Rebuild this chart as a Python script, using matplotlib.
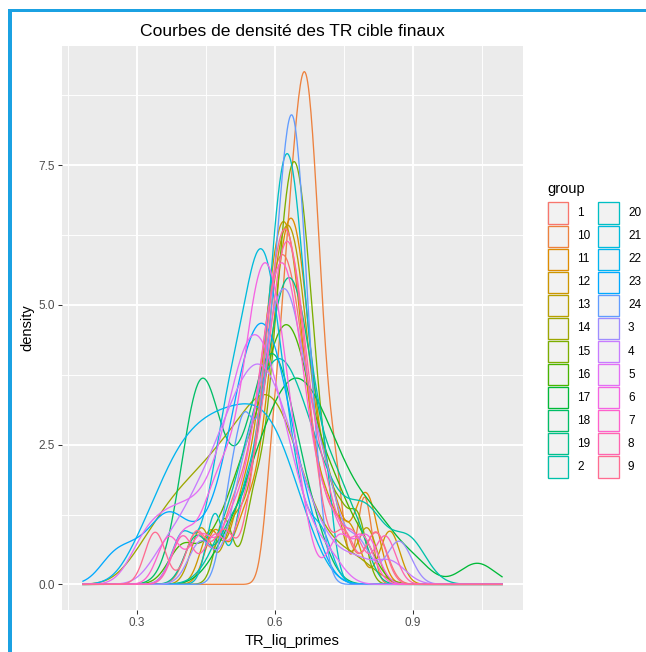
import numpy as np
import matplotlib
matplotlib.use("Agg")
import matplotlib.pyplot as plt
from matplotlib.patches import Rectangle
from matplotlib.ticker import FixedLocator

plt.rcParams['font.family'] = ['Liberation Sans', 'DejaVu Sans']

# ---------------- data (TR_liq_primes observations per group, read/estimated) ----------------
tr_g1 = [0.43, 0.50, 0.533, 0.559, 0.574, 0.586, 0.595, 0.604, 0.613, 0.621, 0.630, 0.639, 0.648, 0.660, 0.675, 0.701, 0.745, 0.82]
tr_g10 = [0.592, 0.6115, 0.6235, 0.633, 0.641, 0.649, 0.656, 0.662, 0.668, 0.674, 0.6805, 0.6885, 0.6975, 0.7115, 0.735, 0.795]
tr_g11 = [0.47, 0.53, 0.564, 0.586, 0.599, 0.609, 0.617, 0.624, 0.631, 0.639, 0.646, 0.653, 0.661, 0.671, 0.684, 0.706, 0.735, 0.785, 0.81]
tr_g12 = [0.46, 0.52, 0.548, 0.570, 0.583, 0.592, 0.601, 0.608, 0.615, 0.623, 0.630, 0.637, 0.646, 0.655, 0.668, 0.690, 0.72, 0.765, 0.85]
tr_g13 = [0.44, 0.51, 0.551, 0.575, 0.589, 0.599, 0.608, 0.616, 0.624, 0.632, 0.640, 0.648, 0.657, 0.667, 0.681, 0.705, 0.73, 0.80]
tr_g14 = [0.31, 0.35, 0.375, 0.395, 0.415, 0.435, 0.452, 0.468, 0.483, 0.497, 0.51, 0.523, 0.536, 0.548,
          0.559, 0.569, 0.579, 0.588, 0.597, 0.606, 0.616, 0.627, 0.64, 0.656, 0.68, 0.72, 0.78]
tr_g15 = [0.49, 0.55, 0.578, 0.598, 0.609, 0.617, 0.625, 0.633, 0.639, 0.645, 0.652, 0.659, 0.667, 0.676, 0.687, 0.706, 0.74, 0.78]
tr_g16 = [0.40, 0.47, 0.52, 0.526, 0.557, 0.574, 0.588, 0.599, 0.610, 0.620, 0.630, 0.640, 0.651, 0.662, 0.676, 0.693, 0.724, 0.74, 0.79]
tr_g17 = [0.485, 0.520, 0.545, 0.560, 0.572, 0.585, 0.598, 0.607, 0.616, 0.626, 0.635, 0.644, 0.652, 0.661, 0.670,
          0.680, 0.690, 0.700, 0.712, 0.724, 0.738, 0.753, 0.773, 0.796, 0.823, 0.845, 0.901, 1.040]
tr_g18 = [0.395, 0.412, 0.422, 0.430, 0.437, 0.443, 0.449, 0.456, 0.466, 0.482, 0.50, 0.52, 0.54, 0.553,
          0.563, 0.572, 0.580, 0.587, 0.594, 0.601, 0.609, 0.617, 0.626, 0.637, 0.650, 0.668, 0.695]
tr_g19 = [0.43, 0.50, 0.541, 0.569, 0.585, 0.597, 0.608, 0.617, 0.626, 0.636, 0.645, 0.654, 0.665, 0.677, 0.693, 0.721, 0.74, 0.78]
tr_g2 = [0.482, 0.514, 0.535, 0.548, 0.560, 0.571, 0.579, 0.588, 0.597, 0.605, 0.613, 0.622, 0.630, 0.640, 0.649,
         0.659, 0.672, 0.686, 0.702, 0.722, 0.745, 0.790, 0.800, 0.812, 0.885, 0.895]
tr_g20 = [0.47, 0.53, 0.559, 0.580, 0.592, 0.601, 0.609, 0.617, 0.623, 0.631, 0.637, 0.645, 0.653, 0.662, 0.675, 0.695, 0.71]
tr_g21 = [0.40, 0.46, 0.487, 0.50, 0.513, 0.528, 0.539, 0.549, 0.558, 0.566, 0.574, 0.582, 0.591, 0.601, 0.612, 0.627, 0.653, 0.70]
tr_g22 = [0.301, 0.335, 0.356, 0.372, 0.387, 0.401, 0.413, 0.426, 0.438, 0.450, 0.462, 0.473, 0.484, 0.495, 0.507,
          0.518, 0.529, 0.540, 0.550, 0.561, 0.572, 0.583, 0.594, 0.605, 0.618, 0.631, 0.650, 0.680]
tr_g23 = [0.25, 0.30, 0.345, 0.368, 0.39, 0.43, 0.465, 0.493, 0.506, 0.516, 0.526, 0.535, 0.543,
          0.551, 0.558, 0.565, 0.572, 0.579, 0.586, 0.593, 0.601, 0.609, 0.618, 0.628, 0.641, 0.658, 0.685]
tr_g24 = [0.50, 0.53, 0.538, 0.568, 0.587, 0.600, 0.610, 0.619, 0.627, 0.633, 0.639, 0.645, 0.651, 0.659, 0.669, 0.688]
tr_g3 = [0.44, 0.52, 0.533, 0.560, 0.575, 0.587, 0.598, 0.607, 0.616, 0.624, 0.633, 0.642, 0.653, 0.665, 0.680, 0.707, 0.72, 0.78, 0.87]
tr_g4 = [0.354, 0.393, 0.418, 0.438, 0.454, 0.470, 0.483, 0.495, 0.505, 0.516, 0.525, 0.534, 0.543, 0.551, 0.559,
         0.567, 0.575, 0.583, 0.591, 0.600, 0.610, 0.619, 0.631, 0.644, 0.661, 0.681, 0.714, 0.774, 0.85]
tr_g5 = [0.308, 0.341, 0.370, 0.396, 0.422, 0.447, 0.470, 0.488, 0.500, 0.511, 0.522, 0.530, 0.538, 0.546, 0.553,
         0.561, 0.568, 0.576, 0.584, 0.594, 0.603, 0.614, 0.628, 0.644, 0.668, 0.716]
tr_g6 = [0.40, 0.45, 0.48, 0.499, 0.524, 0.538, 0.549, 0.558, 0.567, 0.575, 0.583, 0.591, 0.600, 0.609, 0.620, 0.634, 0.659, 0.74, 0.80]
tr_g7 = [0.37, 0.44, 0.50, 0.535, 0.560, 0.574, 0.585, 0.594, 0.603, 0.611, 0.619, 0.627, 0.636, 0.645, 0.656, 0.670, 0.695, 0.73, 0.79]
tr_g8 = [0.40, 0.47, 0.53, 0.556, 0.578, 0.591, 0.601, 0.609, 0.616, 0.623, 0.631, 0.638, 0.645, 0.653, 0.663, 0.676, 0.698, 0.72, 0.77, 0.84]
tr_g9 = [0.34, 0.43, 0.49, 0.550, 0.572, 0.585, 0.595, 0.603, 0.611, 0.618, 0.626, 0.633, 0.641, 0.649, 0.659, 0.672, 0.694, 0.75, 0.82]

x_range = [0.183, 1.094]          # observed range of TR_liq_primes
x_ticks = [0.3, 0.6, 0.9]
y_ticks = [0.0, 2.5, 5.0, 7.5]

group_data = {
    '1': tr_g1, '10': tr_g10, '11': tr_g11, '12': tr_g12, '13': tr_g13, '14': tr_g14, '15': tr_g15,
    '16': tr_g16, '17': tr_g17, '18': tr_g18, '19': tr_g19, '2': tr_g2, '20': tr_g20, '21': tr_g21,
    '22': tr_g22, '23': tr_g23, '24': tr_g24, '3': tr_g3, '4': tr_g4, '5': tr_g5, '6': tr_g6,
    '7': tr_g7, '8': tr_g8, '9': tr_g9,
}
group_levels = sorted(group_data.keys())   # R factor order: 1,10,11,...

# ---------------- helpers ----------------
def hcl_hex(h, c=100.0, l=65.0):
    Xn, Yn, Zn = 95.047, 100.0, 108.883
    den = Xn + 15 * Yn + 3 * Zn
    un, vn = 4 * Xn / den, 9 * Yn / den
    hr = np.deg2rad(h)
    U, V = c * np.cos(hr), c * np.sin(hr)
    Y = Yn * ((l + 16) / 116) ** 3
    u = U / (13 * l) + un
    v = V / (13 * l) + vn
    X = 9.0 * Y * u / (4 * v)
    Z = -X / 3 - 5 * Y + 3 * Y / v
    X, Y, Z = X / 100, Y / 100, Z / 100
    r = 3.240479 * X - 1.537150 * Y - 0.498535 * Z
    g = -0.969256 * X + 1.875992 * Y + 0.041556 * Z
    b = 0.055648 * X - 0.204043 * Y + 1.057311 * Z
    out = []
    for t in (r, g, b):
        t = 1.055 * t ** (1 / 2.4) - 0.055 if t > 0.0031308 else 12.92 * t
        out.append(min(max(t, 0), 1))
    return tuple(out)

def bw_nrd0(x):
    x = np.asarray(x)
    sd = np.std(x, ddof=1)
    iqr = np.subtract(*np.percentile(x, [75, 25])) / 1.34
    return 0.9 * min(sd, iqr) * len(x) ** (-0.2)

ADJUST = 0.8
grid = np.linspace(x_range[0], x_range[1], 512)

def density(x):
    x = np.asarray(x)
    h = bw_nrd0(x) * ADJUST
    d = np.exp(-0.5 * ((grid[:, None] - x[None, :]) / h) ** 2).sum(axis=1)
    return d / (len(x) * h * np.sqrt(2 * np.pi))

hues = np.linspace(15, 375, len(group_levels) + 1)[:-1]
colors = [hcl_hex(h) for h in hues]

# ---------------- figure ----------------
W, H, DPI = 646, 652, 100
fig = plt.figure(figsize=(W / DPI, H / DPI), dpi=DPI)
fig.patch.set_facecolor('white')

def fx(x):
    return x / W

def fy(y):
    return 1 - y / H

L, T, R, B = 62, 46, 523, 610
ax = fig.add_axes([fx(L), fy(B), (R - L) / W, (B - T) / H])
ax.set_facecolor('#EBEBEB')
for s in ax.spines.values():
    s.set_visible(False)

dens = {g: density(group_data[g]) for g in group_levels}
ymax = max(d.max() for d in dens.values())
xr = x_range[1] - x_range[0]
ax.set_xlim(x_range[0] - 0.05 * xr, x_range[1] + 0.05 * xr)
ax.set_ylim(-0.05 * ymax, ymax * 1.05)

for g, c in zip(group_levels, colors):
    ax.plot(grid, dens[g], color=c, lw=0.95, zorder=3)

ax.set_xticks(x_ticks)
ax.set_xticklabels([f"{v:.1f}" for v in x_ticks])
ax.set_yticks(y_ticks)
ax.set_yticklabels([f"{v:.1f}" for v in y_ticks])
ax.xaxis.set_minor_locator(FixedLocator([0.15, 0.45, 0.75, 1.05]))
ax.yaxis.set_minor_locator(FixedLocator([1.25, 3.75, 6.25, 8.75]))
ax.grid(which='major', color='white', lw=1.37, zorder=0)
ax.grid(which='minor', color='white', lw=0.68, zorder=0)
ax.set_axisbelow(True)
ax.tick_params(which='major', length=2.7, width=0.75, color='#333333',
               labelcolor='#4D4D4D', labelsize=8.45, pad=2.2)
ax.tick_params(which='minor', length=0)

# titles
fig.text(fx((L + R) / 2), fy(31), "Courbes de densité des TR cible finaux",
         ha='center', va='center', fontsize=12.6, color='black')
fig.text(fx((L + R) / 2), fy(641), "TR_liq_primes", ha='center', va='center',
         fontsize=10.5, color='black')
fig.text(fx(27), fy((T + B) / 2), "density", ha='center', va='center',
         rotation=90, fontsize=10.5, color='black')

# legend
fig.text(fx(547), fy(189), "group", ha='left', va='center', fontsize=10.5, color='black')
key_w, key_h = 22, 23.05
for i, (g, c) in enumerate(zip(group_levels, colors)):
    col, row = divmod(i, 12)
    kx = 547 + col * 50.5
    ky = 201.7 + row * key_h
    fig.add_artist(Rectangle((fx(kx), fy(ky + key_h)), key_w / W, key_h / H,
                             transform=fig.transFigure, facecolor='#F2F2F2',
                             edgecolor='none', zorder=1))
    fig.add_artist(Rectangle((fx(kx + 0.8), fy(ky + key_h - 0.8)), (key_w - 1.6) / W, (key_h - 1.6) / H,
                             transform=fig.transFigure, facecolor='none',
                             edgecolor=c, lw=0.95, zorder=2))
    fig.text(fx(kx + 30.5), fy(ky + key_h / 2), g, ha='left', va='center',
             fontsize=8.45, color='black')

# screenshot frame (blue border)
fig.add_artist(Rectangle((fx(8), fy(12)), (W - 8) / W, 3 / H, transform=fig.transFigure,
                         facecolor='#1BA1E2', edgecolor='none', zorder=5))
fig.add_artist(Rectangle((fx(8), 0), 4 / W, fy(9), transform=fig.transFigure,
                         facecolor='#1BA1E2', edgecolor='none', zorder=5))

fig.savefig("out.png", dpi=DPI)
